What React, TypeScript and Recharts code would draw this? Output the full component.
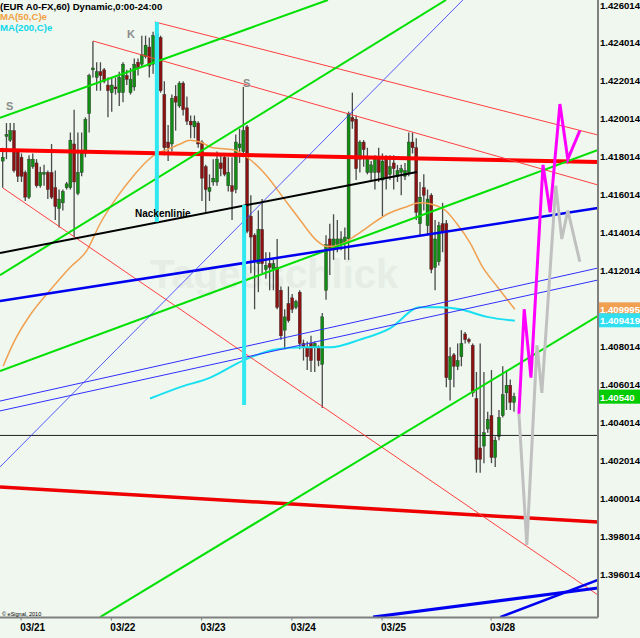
import React from 'react';
import { ComposedChart, Bar, Line, XAxis, YAxis, ReferenceLine } from 'recharts';

// ---- hourly candles (index 0 = Sun 03/20 evening) ----
const opens = [
  1.4178, 1.4191, 1.4189, 1.4194, 1.4183, 1.4180, 1.4172, 1.4159, 1.4175, 1.4177,
  1.4165, 1.4171, 1.4172, 1.4172, 1.4164, 1.4153, 1.4156, 1.4164, 1.4164, 1.4187,
  1.4161, 1.4172, 1.4182, 1.4203, 1.4226, 1.4222, 1.4225, 1.4226, 1.4218, 1.4214,
  1.4217, 1.4214, 1.4214, 1.4223, 1.4214, 1.4217, 1.4230, 1.4229, 1.4233, 1.4238,
  1.4229, 1.4245, 1.4243, 1.4213, 1.4188, 1.4187, 1.4212, 1.4207, 1.4219, 1.4206,
  1.4199, 1.4196, 1.4198, 1.4188, 1.4175, 1.4162, 1.4167, 1.4167, 1.4177, 1.4180,
  1.4165, 1.4165, 1.4163, 1.4185, 1.4183, 1.4196, 1.4149, 1.4139, 1.4124, 1.4142,
  1.4121, 1.4124, 1.4121, 1.4122, 1.4110, 1.4089, 1.4103, 1.4106, 1.4101, 1.4109,
  1.4082, 1.4080, 1.4082, 1.4080, 1.4080, 1.4071, 1.4110, 1.4137, 1.4133, 1.4134,
  1.4134, 1.4135, 1.4137, 1.4201, 1.4200, 1.4179, 1.4188, 1.4172, 1.4172, 1.4172,
  1.4180, 1.4168, 1.4179, 1.4171, 1.4177, 1.4170, 1.4172, 1.4170, 1.4172, 1.4188,
  1.4185, 1.4145, 1.4164, 1.4144, 1.4160, 1.4122, 1.4125, 1.4145, 1.4145, 1.4063,
  1.4076, 1.4070, 1.4075, 1.4087, 1.4084, 1.4081, 1.4053, 1.4027, 1.4028, 1.4037,
  1.4044, 1.4022, 1.4033, 1.4044, 1.4056, 1.4060, 1.4051,
];
const highs = [
  1.4185, 1.4198, 1.4198, 1.4198, 1.4184, 1.4182, 1.4173, 1.4181, 1.4182, 1.4179,
  1.4175, 1.4176, 1.4173, 1.4187, 1.4173, 1.4163, 1.4163, 1.4167, 1.4193, 1.4205,
  1.4193, 1.4193, 1.4201, 1.4224, 1.4241, 1.4230, 1.4230, 1.4227, 1.4222, 1.4222,
  1.4222, 1.4225, 1.4230, 1.4226, 1.4227, 1.4232, 1.4232, 1.4244, 1.4244, 1.4243,
  1.4246, 1.4251, 1.4244, 1.4220, 1.4197, 1.4213, 1.4218, 1.4220, 1.4220, 1.4212,
  1.4202, 1.4202, 1.4199, 1.4189, 1.4176, 1.4171, 1.4179, 1.4183, 1.4181, 1.4182,
  1.4180, 1.4180, 1.4192, 1.4195, 1.4217, 1.4197, 1.4160, 1.4140, 1.4152, 1.4158,
  1.4130, 1.4130, 1.4126, 1.4137, 1.4112, 1.4100, 1.4112, 1.4108, 1.4105, 1.4110,
  1.4084, 1.4083, 1.4086, 1.4083, 1.4081, 1.4098, 1.4139, 1.4145, 1.4150, 1.4147,
  1.4141, 1.4143, 1.4204, 1.4214, 1.4202, 1.4189, 1.4189, 1.4185, 1.4178, 1.4181,
  1.4185, 1.4182, 1.4181, 1.4181, 1.4181, 1.4176, 1.4176, 1.4177, 1.4193, 1.4193,
  1.4190, 1.4167, 1.4171, 1.4163, 1.4161, 1.4147, 1.4146, 1.4156, 1.4147, 1.4080,
  1.4077, 1.4082, 1.4089, 1.4088, 1.4085, 1.4082, 1.4067, 1.4082, 1.4067, 1.4046,
  1.4068, 1.4033, 1.4047, 1.4070, 1.4068, 1.4063, 1.4056,
];
const lows = [
  1.4164, 1.4179, 1.4188, 1.4172, 1.4167, 1.4167, 1.4157, 1.4158, 1.4174, 1.4164,
  1.4164, 1.4165, 1.4158, 1.4158, 1.4147, 1.4143, 1.4152, 1.4163, 1.4163, 1.4138,
  1.4160, 1.4170, 1.4180, 1.4193, 1.4222, 1.4215, 1.4215, 1.4219, 1.4201, 1.4204,
  1.4213, 1.4207, 1.4209, 1.4218, 1.4213, 1.4215, 1.4223, 1.4228, 1.4232, 1.4222,
  1.4224, 1.4229, 1.4214, 1.4181, 1.4178, 1.4183, 1.4194, 1.4206, 1.4202, 1.4197,
  1.4190, 1.4190, 1.4185, 1.4157, 1.4151, 1.4157, 1.4165, 1.4165, 1.4170, 1.4170,
  1.4162, 1.4147, 1.4161, 1.4177, 1.4180, 1.4140, 1.4119, 1.4100, 1.4109, 1.4119,
  1.4116, 1.4110, 1.4110, 1.4100, 1.4084, 1.4079, 1.4093, 1.4098, 1.4100, 1.4079,
  1.4073, 1.4068, 1.4067, 1.4067, 1.4070, 1.4048, 1.4105, 1.4118, 1.4126, 1.4130,
  1.4131, 1.4126, 1.4126, 1.4195, 1.4168, 1.4172, 1.4175, 1.4171, 1.4168, 1.4163,
  1.4167, 1.4149, 1.4163, 1.4168, 1.4163, 1.4167, 1.4160, 1.4168, 1.4170, 1.4182,
  1.4147, 1.4139, 1.4152, 1.4139, 1.4119, 1.4110, 1.4123, 1.4130, 1.4059, 1.4052,
  1.4059, 1.4068, 1.4070, 1.4082, 1.4082, 1.4054, 1.4014, 1.4014, 1.4019, 1.4035,
  1.4019, 1.4017, 1.4031, 1.4043, 1.4047, 1.4047, 1.4046,
];
const closes = [
  1.4180, 1.4192, 1.4194, 1.4173, 1.4170, 1.4170, 1.4159, 1.4179, 1.4179, 1.4165,
  1.4172, 1.4172, 1.4163, 1.4159, 1.4154, 1.4158, 1.4162, 1.4166, 1.4189, 1.4167,
  1.4172, 1.4182, 1.4200, 1.4223, 1.4227, 1.4225, 1.4223, 1.4220, 1.4215, 1.4218,
  1.4216, 1.4222, 1.4229, 1.4221, 1.4221, 1.4229, 1.4227, 1.4234, 1.4239, 1.4228,
  1.4244, 1.4242, 1.4215, 1.4185, 1.4185, 1.4211, 1.4209, 1.4219, 1.4205, 1.4199,
  1.4197, 1.4199, 1.4187, 1.4169, 1.4163, 1.4164, 1.4169, 1.4179, 1.4174, 1.4171,
  1.4172, 1.4162, 1.4188, 1.4187, 1.4194, 1.4141, 1.4138, 1.4125, 1.4142, 1.4124,
  1.4123, 1.4122, 1.4124, 1.4101, 1.4086, 1.4096, 1.4094, 1.4100, 1.4104, 1.4082,
  1.4080, 1.4075, 1.4073, 1.4082, 1.4073, 1.4096, 1.4134, 1.4132, 1.4137, 1.4137,
  1.4137, 1.4138, 1.4203, 1.4199, 1.4174, 1.4188, 1.4184, 1.4180, 1.4176, 1.4180,
  1.4172, 1.4178, 1.4169, 1.4175, 1.4174, 1.4173, 1.4174, 1.4173, 1.4188, 1.4185,
  1.4151, 1.4159, 1.4160, 1.4158, 1.4121, 1.4137, 1.4144, 1.4141, 1.4064, 1.4075,
  1.4070, 1.4073, 1.4082, 1.4084, 1.4083, 1.4056, 1.4021, 1.4021, 1.4035, 1.4042,
  1.4022, 1.4031, 1.4043, 1.4055, 1.4060, 1.4051, 1.4054,
];

// ---- moving averages (bar index, price) ----
const ma50X = [0.1, 3.3, 7.3, 12.6, 17.9, 22.4, 25.9, 30.4, 34.7, 38.4, 41.0, 43.7, 47.2, 49.8, 52.5, 55.9, 61.3, 65.0, 70.3, 74.5, 79.1, 83.6, 86.3, 89.7, 93.2, 96.9, 102.2, 107.5, 111.0, 117.1, 120.8, 124.3, 127.7, 131.5, 136.2];
const ma50V = [1.4070, 1.4084, 1.4097, 1.4110, 1.4122, 1.4131, 1.4145, 1.4159, 1.4170, 1.4178, 1.4182, 1.4184, 1.4187, 1.4189, 1.4188, 1.4185, 1.4184, 1.4180, 1.4170, 1.4159, 1.4147, 1.4136, 1.4133, 1.4134, 1.4138, 1.4143, 1.4150, 1.4154, 1.4156, 1.4153, 1.4145, 1.4135, 1.4122, 1.4112, 1.4100];
const ma200X = [39.2, 47.2, 55.2, 63.9, 72.9, 79.9, 87.1, 95.0, 103.0, 111.0, 116.3, 121.6, 128.8, 136.2];
const ma200V = [1.4053, 1.4059, 1.4064, 1.4073, 1.4079, 1.4080, 1.4080, 1.4084, 1.4090, 1.4101, 1.4101, 1.4100, 1.4096, 1.4094];

// ---- projected paths ----
const bullX = [137.3, 138.7, 140.5, 143.7, 145.6, 148.2, 150.3, 153.5];
const bullV = [1.4045, 1.4100, 1.4064, 1.4176, 1.4151, 1.4208, 1.4179, 1.4194];
const bearX = [137.3, 139.4, 142.1, 143.4, 147.1, 148.7, 150.3, 153.5];
const bearV = [1.4045, 1.3976, 1.4081, 1.4056, 1.4165, 1.4137, 1.4152, 1.4125];

// ---- drawn trend lines (bar index, price) ----
const trendLines = [
  { id: 'resist', x1: -0.72, p1: 1.41838, x2: 158.33, p2: 1.41775 },
  { id: 'support', x1: -0.72, p1: 1.40065, x2: 158.33, p2: 1.39880 },
  { id: 'chanA', x1: 40.5, p1: 1.42512, x2: 158.33, p2: 1.41917 },
  { id: 'chanB', x1: 24.0, p1: 1.42412, x2: 158.33, p2: 1.41654 },
  { id: 'chanC', x1: 0.08, p1: 1.41638, x2: 158.33, p2: 1.39496 },
  { id: 'green1', x1: -0.72, p1: 1.42007, x2: 86.5, p2: 1.42628 },
  { id: 'green2', x1: -0.72, p1: 1.41180, x2: 117.9, p2: 1.42628 },
  { id: 'green3', x1: -0.72, p1: 1.40675, x2: 158.33, p2: 1.41838 },
  { id: 'green4', x1: 25.9, p1: 1.39380, x2: 158.33, p2: 1.40965 },
  { id: 'blue1', x1: -0.72, p1: 1.41044, x2: 158.33, p2: 1.41533 },
  { id: 'blue2', x1: -0.72, p1: 1.40517, x2: 158.33, p2: 1.41217 },
  { id: 'blue3', x1: -0.72, p1: 1.40465, x2: 158.33, p2: 1.41154 },
  { id: 'blue4', x1: -0.72, p1: 1.40170, x2: 122.4, p2: 1.42628 },
  { id: 'blue5', x1: 98.5, p1: 1.39380, x2: 158.33, p2: 1.39533 },
  { id: 'blue6', x1: 132.3, p1: 1.39380, x2: 158.33, p2: 1.39575 },
  { id: 'neck', x1: -0.72, p1: 1.41296, x2: 110.2, p2: 1.41722 },
  { id: 'mark1', x1: 41.0, p1: 1.42512, x2: 41.0, p2: 1.41459 },
  { id: 'mark2', x1: 64.2, p1: 1.41549, x2: 64.2, p2: 1.40496 },
];
const levelLine = 1.40336;

const dayTicks = [4.9, 28.9, 52.9, 76.9, 100.9, 129.9];
const dayLabels = ['03/21', '03/22', '03/23', '03/24', '03/25', '03/28'];
const priceTicks = [1.396014, 1.398014, 1.400014, 1.402014, 1.404014, 1.406014, 1.408014, 1.412014, 1.414014, 1.416014, 1.418014, 1.420014, 1.422014, 1.424014, 1.426014];

const lastValues = [
  { id: 'ma50', value: 1.409995, text: '1.409995' },
  { id: 'ma200', value: 1.409419, text: '1.409419' },
  { id: 'last', value: 1.4054, text: '1.40540' },
];

// ---- styles ----
const BG = '#eff7ef';
const FONT = '"Liberation Sans", Arial, sans-serif';
const lineStyles: Record<string, { stroke: string; width: number }> = {
  resist: { stroke: '#ff0000', width: 4 },
  support: { stroke: '#ee0000', width: 3.5 },
  chanA: { stroke: '#ff4040', width: 1 },
  chanB: { stroke: '#ff4040', width: 1 },
  chanC: { stroke: '#ff4040', width: 1 },
  green1: { stroke: '#00e000', width: 2 },
  green2: { stroke: '#00e000', width: 2 },
  green3: { stroke: '#00e000', width: 2 },
  green4: { stroke: '#00e000', width: 2 },
  blue1: { stroke: '#0000f0', width: 2.5 },
  blue2: { stroke: '#3030ff', width: 1 },
  blue3: { stroke: '#3030ff', width: 1 },
  blue4: { stroke: '#3030ff', width: 0.8 },
  blue5: { stroke: '#0000f0', width: 3 },
  blue6: { stroke: '#0000f0', width: 2.5 },
  neck: { stroke: '#000000', width: 2 },
  mark1: { stroke: '#30e8f0', width: 4 },
  mark2: { stroke: '#30e8f0', width: 4 },
};
const boxColors: Record<string, string> = { ma50: '#f0a050', ma200: '#30e0f0', last: '#00cc00' };

const candles = opens.map((o, i) => ({
  x: i,
  open: o,
  high: highs[i],
  low: lows[i],
  close: closes[i],
  range: [lows[i], highs[i]],
}));
const toRows = (xs: number[], vs: number[]) => xs.map((x, i) => ({ x, v: vs[i] }));

const Candle = (props: any) => {
  const { x, y, width, height, payload } = props;
  if (x == null || y == null || !payload) return null;
  const cx = x + width / 2;
  const top = Math.min(y, y + height);
  const h = Math.abs(height);
  const span = payload.high - payload.low;
  const k = span > 0 ? h / span : 0;
  const yO = top + (payload.high - payload.open) * k;
  const yC = top + (payload.high - payload.close) * k;
  const up = payload.close >= payload.open;
  const bTop = Math.min(yO, yC);
  const bH = Math.max(1, Math.abs(yC - yO));
  return (
    <g>
      <line x1={cx} x2={cx} y1={top} y2={top + Math.max(h, 1)} stroke="#4a4a4a" strokeWidth={1.3} />
      <rect x={cx - 1.5} y={bTop} width={3} height={bH} fill={up ? '#128c12' : '#8c1212'} stroke="#2a2a2a" strokeWidth={0.4} />
    </g>
  );
};

const XTick = (props: any) => {
  const { x, y, index } = props;
  return (
    <g>
      <line x1={x} x2={x} y1={y - 8} y2={y - 5} stroke="#808080" strokeWidth={1} />
      <text x={x - 1} y={y + 5} fontFamily={FONT} fontWeight="bold" fontSize={10} fill="#000" textAnchor="start">
        {dayLabels[index]}
      </text>
    </g>
  );
};

const YTick = (props: any) => {
  const { y, payload } = props;
  return (
    <text x={600} y={y + 3.5} fontFamily={FONT} fontWeight="bold" fontSize={9.6} fill="#000" textAnchor="start">
      {payload.value.toFixed(6)}
    </text>
  );
};

const ValueBox = (props: any) => {
  const { viewBox, text, color } = props;
  if (!viewBox) return null;
  const y = viewBox.y;
  return (
    <g>
      <rect x={599} y={y - 7} width={41} height={14} fill={color} />
      <text x={600} y={y + 4} fontFamily={FONT} fontWeight="bold" fontSize={9.6} fill="#fff" textAnchor="start">
        {text}
      </text>
    </g>
  );
};

export default function App() {
  return (
    <div style={{ position: 'absolute', left: 0, top: 0, width: 640, height: 638, background: BG, overflow: 'hidden' }}>
      <svg width={640} height={638} style={{ position: 'absolute', left: 0, top: 0 }}>
        <text x={150} y={288} fontFamily={FONT} fontWeight="bold" fontSize={40} fill="#e5ede5">Tagesschlick</text>
      </svg>
      <div style={{ position: 'absolute', left: 0, top: 0 }}>
        <ComposedChart width={640} height={638} data={candles} margin={{ top: 0, right: 0, bottom: 0, left: 0 }}>
          <XAxis
            dataKey="x"
            type="number"
            domain={[-0.72, 158.33]}
            allowDataOverflow
            ticks={dayTicks}
            interval={0}
            height={20.5}
            axisLine={{ stroke: '#808080', strokeWidth: 2 }}
            tickLine={false}
            tick={<XTick />}
          />
          <YAxis
            orientation="right"
            type="number"
            domain={[1.393777, 1.426277]}
            allowDataOverflow
            ticks={priceTicks}
            interval={0}
            width={42}
            axisLine={{ stroke: '#808080', strokeWidth: 2 }}
            tickLine={false}
            tick={<YTick />}
          />
          <ReferenceLine y={levelLine} stroke="#202020" strokeWidth={1} ifOverflow="hidden" />
          <Line data={toRows(ma200X, ma200V)} dataKey="v" type="monotone" stroke="#18e0f0" strokeWidth={2} dot={false} activeDot={false} isAnimationActive={false} />
          <Line data={toRows(ma50X, ma50V)} dataKey="v" type="monotone" stroke="#f0a050" strokeWidth={1.5} dot={false} activeDot={false} isAnimationActive={false} />
          <Bar dataKey="range" barSize={3} shape={<Candle />} activeBar={false} isAnimationActive={false} />
          {trendLines.map((t) => (
            <ReferenceLine
              key={t.id}
              segment={[{ x: t.x1, y: t.p1 }, { x: t.x2, y: t.p2 }]}
              stroke={lineStyles[t.id].stroke}
              strokeWidth={lineStyles[t.id].width}
              ifOverflow="hidden"
            />
          ))}
          <Line data={toRows(bearX, bearV)} dataKey="v" type="linear" stroke="#c0c0c0" strokeWidth={3} dot={false} activeDot={false} isAnimationActive={false} />
          <Line data={toRows(bullX, bullV)} dataKey="v" type="linear" stroke="#ff00ff" strokeWidth={3} dot={false} activeDot={false} isAnimationActive={false} />
          {lastValues.map((lv) => (
            <ReferenceLine
              key={lv.id}
              y={lv.value}
              stroke="none"
              ifOverflow="visible"
              label={<ValueBox text={lv.text} color={boxColors[lv.id]} />}
            />
          ))}
        </ComposedChart>
      </div>
      <svg width={640} height={638} style={{ position: 'absolute', left: 0, top: 0, pointerEvents: 'none' }}>
        <text x={0} y={9.5} fontFamily={FONT} fontWeight="bold" fontSize={9.6} fill="#000">(EUR A0-FX,60) Dynamic,0:00-24:00</text>
        <text x={0} y={20} fontFamily={FONT} fontWeight="bold" fontSize={9.6} fill="#f0a040">MA(50,C)e</text>
        <text x={0} y={30.5} fontFamily={FONT} fontWeight="bold" fontSize={9.6} fill="#10d8e8">MA(200,C)e</text>
        <text x={127} y={37.5} fontFamily={FONT} fontWeight="bold" fontSize={11} fill="#8c8c8c">K</text>
        <text x={6} y={110} fontFamily={FONT} fontWeight="bold" fontSize={11} fill="#8c8c8c">S</text>
        <text x={243} y={87} fontFamily={FONT} fontWeight="bold" fontSize={11} fill="#8c8c8c">S</text>
        <text x={135} y={217} fontFamily={FONT} fontWeight="bold" fontSize={10} fill="#000">Nackenlinie</text>
        <text x={2} y={615.5} fontFamily={FONT} fontSize={5.5} fill="#000">© eSignal, 2010</text>
      </svg>
    </div>
  );
}
